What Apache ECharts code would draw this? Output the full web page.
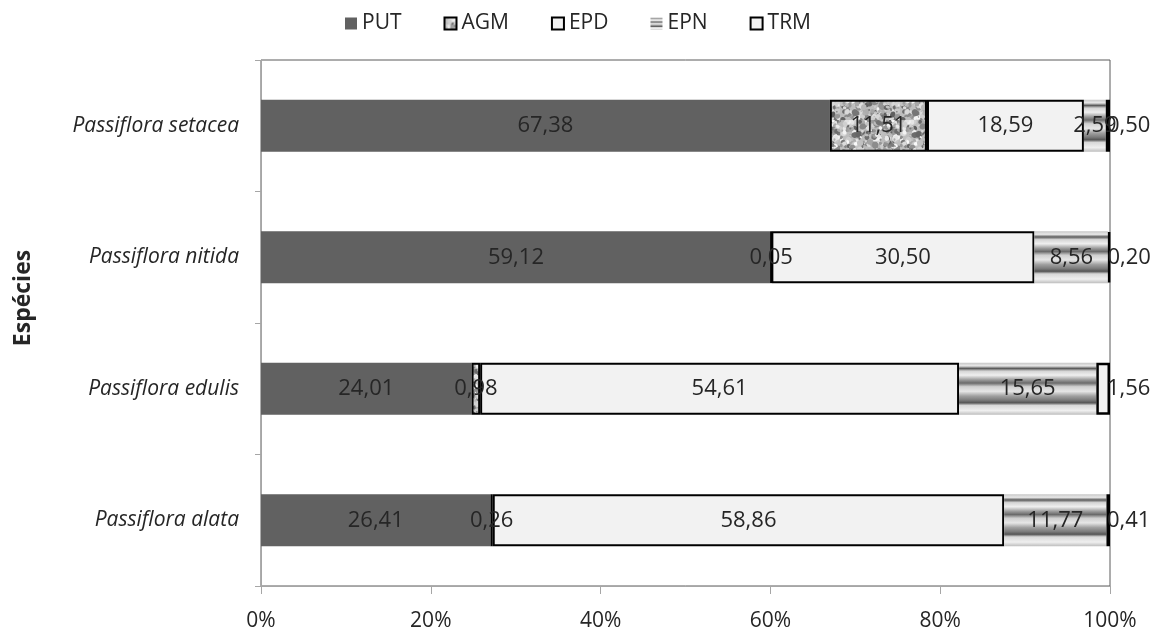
<!DOCTYPE html>
<html>
<head>
<meta charset="utf-8">
<script src="https://cdn.jsdelivr.net/npm/echarts@6/dist/echarts.min.js"></script>
<style>
  html, body { margin: 0; padding: 0; background: #ffffff; }
  #chart { width: 1156px; height: 634px; }
</style>
</head>
<body>
<div id="chart"></div>
<script>
// ---- data ----
const categories = ['Passiflora alata', 'Passiflora edulis', 'Passiflora nitida', 'Passiflora setacea'];
const seriesNames = ['PUT', 'AGM', 'EPD', 'EPN', 'TRM'];
const PUT = [26.41, 24.01, 59.12, 67.38];
const AGM = [0.26, 0.98, 0.05, 11.51];
const EPD = [58.86, 54.61, 30.50, 18.59];
const EPN = [11.77, 15.65, 8.56, 2.59];
const TRM = [0.41, 1.56, 0.20, 0.50];
const xTickValues = [0, 20, 40, 60, 80, 100];
const yAxisTitle = 'Espécies';

// ---- build ----
const raw = [PUT, AGM, EPD, EPN, TRM];
const totals = categories.map((c, i) => raw.reduce((s, arr) => s + arr[i], 0));

// granite-like texture for AGM (deterministic)
function graniteCanvas() {
  const c = document.createElement('canvas');
  c.width = 60; c.height = 60;
  const g = c.getContext('2d');
  g.fillStyle = '#bdbdbd';
  g.fillRect(0, 0, 60, 60);
  let seed = 12345;
  function rnd() { seed = (seed * 1103515245 + 12345) % 2147483648; return seed / 2147483648; }
  for (let k = 0; k < 480; k++) {
    const x = rnd() * 60, y = rnd() * 60, r = 0.8 + rnd() * 2.4;
    const v = Math.floor(95 + rnd() * 155);
    g.fillStyle = 'rgb(' + v + ',' + v + ',' + v + ')';
    g.beginPath();
    g.ellipse(x, y, r, r * (0.6 + rnd() * 0.6), rnd() * 3, 0, Math.PI * 2);
    g.fill();
  }
  return c;
}

const styles = {
  PUT: { color: '#616161', borderWidth: 0 },
  AGM: { color: { image: graniteCanvas(), repeat: 'repeat' }, borderColor: '#000', borderWidth: 2 },
  EPD: { color: '#f2f2f2', borderColor: '#000', borderWidth: 2 },
  EPN: {
    color: {
      type: 'linear', x: 0, y: 0, x2: 0, y2: 1,
      colorStops: [
        { offset: 0.00, color: '#c6c6c6' },
        { offset: 0.06, color: '#e8e8e8' },
        { offset: 0.11, color: '#5a5a5a' },
        { offset: 0.16, color: '#d4d4d4' },
        { offset: 0.24, color: '#efefef' },
        { offset: 0.33, color: '#9a9a9a' },
        { offset: 0.39, color: '#6a6a6a' },
        { offset: 0.46, color: '#cfcfcf' },
        { offset: 0.55, color: '#e6e6e6' },
        { offset: 0.64, color: '#a0a0a0' },
        { offset: 0.72, color: '#7a7a7a' },
        { offset: 0.77, color: '#555555' },
        { offset: 0.82, color: '#d8d8d8' },
        { offset: 0.92, color: '#efefef' },
        { offset: 1.00, color: '#bdbdbd' }
      ]
    },
    borderWidth: 0
  },
  TRM: { color: '#f2f2f2', borderColor: '#000', borderWidth: 2.5 }
};

const FONT = '"Open Sans", "Noto Sans", sans-serif';
const fmt = v => v.toFixed(2).replace('.', ',');

const series = seriesNames.map((name, si) => {
  const label = {
    show: true,
    position: 'inside',
    color: '#262626',
    fontSize: 22,
    fontFamily: FONT,
    formatter: p => fmt(raw[si][p.dataIndex])
  };
  if (name === 'TRM') { label.position = 'right'; label.distance = -3; }
  return {
    name: name,
    type: 'bar',
    stack: 'total',
    barWidth: 52,
    itemStyle: styles[name],
    label: label,
    data: raw[si].map((v, i) => v / totals[i] * 100)
  };
});

const chart = echarts.init(document.getElementById('chart'), null, { renderer: 'canvas' });
chart.setOption({
  animation: false,
  backgroundColor: '#ffffff',
  legend: {
    top: 8,
    left: 'center',
    itemWidth: 12,
    itemHeight: 12,
    itemGap: 42,
    icon: 'rect',
    textStyle: { fontSize: 21, fontFamily: FONT, color: '#262626' },
    data: seriesNames
  },
  grid: {
    left: 261, right: 46, top: 60, bottom: 48,
    show: true, borderColor: '#5a5a5a', borderWidth: 1, backgroundColor: 'transparent'
  },
  xAxis: {
    type: 'value',
    min: 0, max: 100, interval: 20,
    axisLine: { show: true, lineStyle: { color: '#a6a6a6' } },
    axisTick: { show: true, length: 8, lineStyle: { color: '#a6a6a6' } },
    splitLine: { show: false },
    axisLabel: {
      formatter: v => xTickValues.includes(v) ? v + '%' : '',
      fontSize: 21, fontFamily: FONT, color: '#262626', margin: 25
    }
  },
  yAxis: {
    type: 'category',
    data: categories,
    axisLine: { show: true, lineStyle: { color: '#a6a6a6' } },
    axisTick: { show: true, length: 6, lineStyle: { color: '#a6a6a6' } },
    axisLabel: { fontSize: 21, fontStyle: 'italic', fontFamily: FONT, color: '#262626', margin: 22 },
    name: yAxisTitle,
    nameLocation: 'middle',
    nameGap: 226,
    nameRotate: 90,
    nameTextStyle: { fontSize: 23, fontWeight: 'bold', fontFamily: FONT, color: '#262626', padding: [0, 0, 0, 50] }
  },
  series: series
});
</script>
</body>
</html>
